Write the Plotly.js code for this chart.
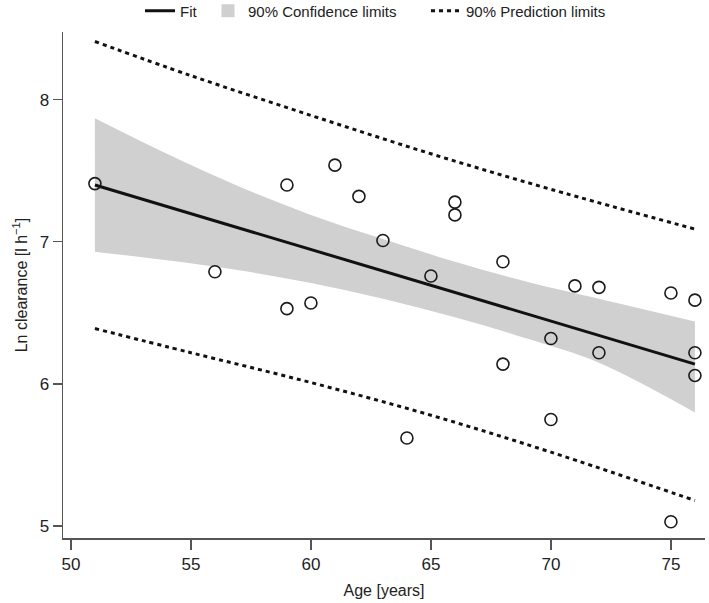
<!DOCTYPE html>
<html>
<head>
<meta charset="utf-8">
<script src="https://cdn.plot.ly/plotly-3.0.1.min.js"></script>
<style>html,body{margin:0;padding:0;background:#fff;}#chart{width:709px;height:603px;}</style>
</head>
<body>
<div id="chart"></div>
<script>
// Observed data
const ages = [51, 56, 59, 59, 60, 61, 62, 63, 64, 65, 66, 66, 68, 68, 70, 70, 71, 72, 72, 75, 75, 76, 76, 76];
const lnClearance = [7.41, 6.79, 7.40, 6.53, 6.57, 7.54, 7.32, 7.01, 5.62, 6.76, 7.28, 7.19, 6.86, 6.14, 6.32, 5.75, 6.69, 6.68, 6.22, 6.64, 5.03, 6.59, 6.22, 6.06];

// Fitted line
const fitAges = [51, 76];
const fitValues = [7.40, 6.14];

// 90% confidence band
const ciAges = [51, 54, 57, 60, 63, 66, 69, 72, 76];
const ciUpper = [7.87, 7.62, 7.39, 7.19, 7.02, 6.86, 6.72, 6.60, 6.44];
const ciLower = [6.93, 6.87, 6.80, 6.71, 6.60, 6.47, 6.32, 6.15, 5.80];

// 90% prediction limits
const piAges = [51, 55, 60, 65, 70, 76];
const piUpper = [8.41, 8.17, 7.89, 7.62, 7.37, 7.09];
const piLower = [6.39, 6.22, 6.01, 5.78, 5.52, 5.18];

const xTicks = [50, 55, 60, 65, 70, 75];
const yTicks = [5, 6, 7, 8];

const FONT = 'Liberation Sans, Arial, Helvetica, sans-serif';
const bandColor = '#d0d0d0';
const dotDash = '4px,4px';

const traces = [
  {x: ciAges, y: ciLower, mode: 'lines', line: {width: 0, color: bandColor, shape: 'spline', smoothing: 1}, showlegend: false, hoverinfo: 'skip'},
  {x: ciAges, y: ciUpper, mode: 'lines', line: {width: 0, color: bandColor, shape: 'spline', smoothing: 1}, fill: 'tonexty', fillcolor: bandColor, showlegend: false, hoverinfo: 'skip'},
  {x: fitAges, y: fitValues, mode: 'lines', name: 'Fit', line: {color: '#111', width: 3}, legend: 'legend'},
  {x: [null], y: [null], mode: 'markers', name: '90% Confidence limits', marker: {symbol: 'square', size: 13, color: bandColor}, legend: 'legend2'},
  {x: piAges, y: piUpper, mode: 'lines', name: '90% Prediction limits', line: {color: '#111', width: 3, dash: dotDash, shape: 'spline', smoothing: 1}, legend: 'legend3'},
  {x: piAges, y: piLower, mode: 'lines', line: {color: '#111', width: 3, dash: dotDash, shape: 'spline', smoothing: 1}, showlegend: false},
  {x: ages, y: lnClearance, mode: 'markers', showlegend: false,
   marker: {symbol: 'circle-open', size: 12, color: '#1a1a1a', line: {width: 1.6, color: '#1a1a1a'}}}
];

const legendBase = {orientation: 'h', xref: 'container', yref: 'container', yanchor: 'middle', y: 1 - 11/603,
  font: {family: FONT, size: 15, color: '#222'}, bgcolor: 'rgba(0,0,0,0)', itemsizing: 'trace', tracegroupgap: 0};

const layout = {
  width: 709, height: 603,
  margin: {l: 63, r: 4, t: 32, b: 65},
  paper_bgcolor: '#fff', plot_bgcolor: '#fff',
  font: {family: FONT, color: '#222'},
  xaxis: {range: [49.67, 76.42], tickvals: xTicks, ticktext: xTicks.map(String), ticks: 'outside', ticklen: 10, tickwidth: 1.2,
    tickcolor: '#555', showline: true, linecolor: '#555', linewidth: 1.5, showgrid: false, zeroline: false,
    tickfont: {size: 17, family: FONT, color: '#222'},
    title: {text: 'Age [years]', font: {size: 16, family: FONT, color: '#222'}, standoff: 12}},
  yaxis: {range: [4.916, 8.477], tickvals: yTicks, ticktext: yTicks.map(String), ticks: 'outside', ticklen: 9, tickwidth: 1.2,
    tickcolor: '#555', showline: true, linecolor: '#555', linewidth: 1.5, showgrid: false, zeroline: false,
    tickfont: {size: 17, family: FONT, color: '#222'},
    title: {text: 'Ln clearance [l h<sup>−1</sup>]', font: {size: 16, family: FONT, color: '#222'}, standoff: 8}},
  legend: Object.assign({}, legendBase, {x: 140/709, xanchor: 'left'}),
  legend2: Object.assign({}, legendBase, {x: 208/709, xanchor: 'left'}),
  legend3: Object.assign({}, legendBase, {x: 426/709, xanchor: 'left'}),
  showlegend: true
};

Plotly.newPlot('chart', traces, layout, {displayModeBar: false, staticPlot: true});
</script>
</body>
</html>
